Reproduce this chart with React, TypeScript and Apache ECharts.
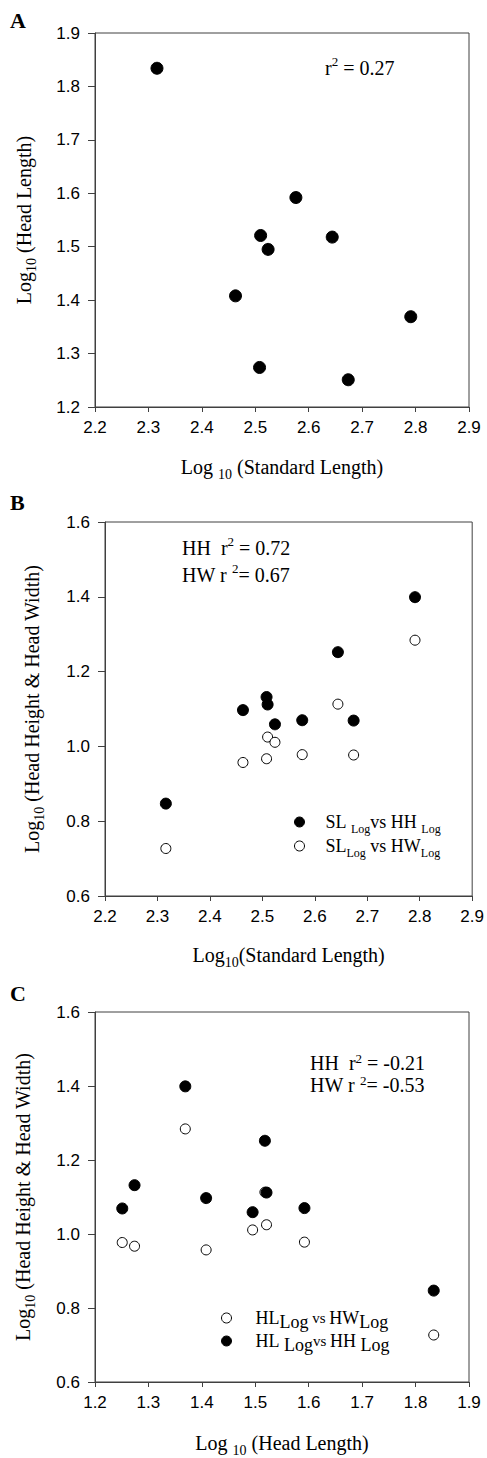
import React, { useEffect, useRef } from "react";
import * as echarts from "echarts";

// ---- data (one entry per specimen) ----
const standardLength = [2.316, 2.463, 2.508, 2.51, 2.524, 2.576, 2.644, 2.674, 2.791];
const headLength = [1.834, 1.408, 1.274, 1.521, 1.495, 1.592, 1.518, 1.251, 1.369];
const headHeight = [0.847, 1.097, 1.132, 1.112, 1.059, 1.07, 1.252, 1.069, 1.399];
const headWidth = [0.727, 0.957, 0.967, 1.025, 1.011, 0.978, 1.113, 0.977, 1.284];

// axis ranges [min, max, interval]
const slAxis = [2.2, 2.9, 0.1];
const hlAxis = [1.2, 1.9, 0.1];
const hhwAxis = [0.6, 1.6, 0.2];

const pairs = (xs: number[], ys: number[]) => xs.map((x, i) => [x, ys[i]]);

const SERIF = "'Liberation Serif', 'Times New Roman', serif";
const SANS = "'Liberation Sans', Arial, sans-serif";
const AXIS_COLOR = "#404040";

const nameRich = {
  m: { fontFamily: SERIF, fontSize: 20, lineHeight: 28, color: "#000" },
  s: { fontFamily: SERIF, fontSize: 14, lineHeight: 14, verticalAlign: "bottom", color: "#000" },
};

const annRich = (lh: number) => ({
  m: { fontFamily: SERIF, fontSize: 20, lineHeight: lh, color: "#000" },
  p: { fontFamily: SERIF, fontSize: 13, lineHeight: 10, verticalAlign: "top", color: "#000" },
});

function valueAxis(gridIndex: number, range: number[], name: string, isY: boolean, nameGap: number) {
  return {
    type: "value",
    gridIndex,
    min: range[0],
    max: range[1],
    interval: range[2],
    name,
    nameLocation: "middle",
    nameGap,
    nameTextStyle: { rich: nameRich },
    axisLine: { show: true, lineStyle: { color: AXIS_COLOR, width: 1 } },
    axisTick: { show: true, inside: false, length: isY ? 7 : 5, lineStyle: { color: AXIS_COLOR, width: 1 } },
    axisLabel: {
      show: true,
      margin: isY ? 15 : 12,
      color: "#000",
      fontFamily: SANS,
      fontSize: 17,
      formatter: (v: number) => v.toFixed(1),
    },
    splitLine: { show: false },
  };
}

const filled = { color: "#000", borderColor: "#000", borderWidth: 1, opacity: 1 };
const open = { color: "#fff", borderColor: "#000", borderWidth: 1, opacity: 1 };

export default function App() {
  const ref = useRef<HTMLDivElement>(null);

  useEffect(() => {
    if (!ref.current) return;
    const chart = echarts.init(ref.current, null, { renderer: "svg" });

    const legendB: Record<string, string> = {
      "SL vs HH": "{f|SL }{s|Log}{m|vs HH }{s|Log}",
      "SL vs HW": "{f|SL}{s|Log}{m| vs HW}{s|Log}",
    };
    const legendC: Record<string, string> = {
      "HL vs HW": "{f|HL}{s|Log}{v| vs }{m|HW}{s|Log}",
      "HL vs HH": "{f|HL }{s|Log}{v|vs }{m|HH }{s|Log}",
    };

    const option: any = {
      animation: false,
      backgroundColor: "#fff",
      grid: [
        { left: 95, top: 33, width: 374, height: 374, show: true, borderColor: AXIS_COLOR, borderWidth: 1, backgroundColor: "transparent" },
        { left: 105, top: 522, width: 374, height: 374, show: true, borderColor: AXIS_COLOR, borderWidth: 1, backgroundColor: "transparent" },
        { left: 95, top: 1012, width: 374, height: 375, show: true, borderColor: AXIS_COLOR, borderWidth: 1, backgroundColor: "transparent" },
      ],
      xAxis: [
        valueAxis(0, slAxis, "{m|Log }{s|10}{m| (Standard Length)}", false, 46),
        valueAxis(1, slAxis, "{m|Log}{s|10}{m|(Standard Length)}", false, 45),
        valueAxis(2, hlAxis, "{m|Log }{s|10}{m| (Head Length)}", false, 47),
      ],
      yAxis: [
        valueAxis(0, hlAxis, "{m|Log}{s|10}{m| (Head Length)}", true, 57),
        valueAxis(1, hhwAxis, "{m|Log}{s|10}{m| (Head Height & Head Width)}", true, 59),
        valueAxis(2, hhwAxis, "{m|Log}{s|10}{m| (Head Height & Head Width)}", true, 58),
      ],
      legend: [
        {
          data: [
            { name: "SL vs HH", icon: "circle", itemStyle: filled },
            { name: "SL vs HW", icon: "circle", itemStyle: open },
          ],
          orient: "vertical",
          left: 294,
          top: 813,
          padding: 0,
          itemWidth: 10,
          itemHeight: 10,
          itemGap: 2,
          selectedMode: false,
          formatter: (n: string) => legendB[n],
          textStyle: {
            color: "#000",
            rich: {
              f: { fontFamily: SERIF, fontSize: 18, lineHeight: 26, color: "#000", padding: [0, 0, 0, 16] },
              m: { fontFamily: SERIF, fontSize: 18, lineHeight: 26, color: "#000" },
              s: { fontFamily: SERIF, fontSize: 12, lineHeight: 11, verticalAlign: "bottom", color: "#000" },
            },
          },
        },
        {
          data: [
            { name: "HL vs HW", icon: "circle", itemStyle: open },
            { name: "HL vs HH", icon: "circle", itemStyle: filled },
          ],
          orient: "vertical",
          left: 221,
          top: 1309,
          padding: 0,
          itemWidth: 10,
          itemHeight: 10,
          itemGap: 1,
          selectedMode: false,
          formatter: (n: string) => legendC[n],
          textStyle: {
            color: "#000",
            rich: {
              f: { fontFamily: SERIF, fontSize: 18, lineHeight: 26, color: "#000", padding: [0, 0, 0, 19] },
              m: { fontFamily: SERIF, fontSize: 18, lineHeight: 26, color: "#000" },
              s: { fontFamily: SERIF, fontSize: 18, lineHeight: 16, verticalAlign: "bottom", color: "#000" },
              v: { fontFamily: SERIF, fontSize: 15, lineHeight: 26, color: "#000" },
            },
          },
        },
      ],
      series: [
        {
          name: "SL vs HL",
          type: "scatter",
          xAxisIndex: 0,
          yAxisIndex: 0,
          symbol: "circle",
          symbolSize: 12,
          itemStyle: filled,
          data: pairs(standardLength, headLength),
        },
        {
          name: "SL vs HH",
          type: "scatter",
          xAxisIndex: 1,
          yAxisIndex: 1,
          symbol: "circle",
          symbolSize: 11,
          itemStyle: filled,
          data: pairs(standardLength, headHeight),
        },
        {
          name: "SL vs HW",
          type: "scatter",
          xAxisIndex: 1,
          yAxisIndex: 1,
          symbol: "circle",
          symbolSize: 10,
          itemStyle: open,
          data: pairs(standardLength, headWidth),
        },
        {
          name: "HL vs HW",
          type: "scatter",
          xAxisIndex: 2,
          yAxisIndex: 2,
          symbol: "circle",
          symbolSize: 10,
          itemStyle: open,
          data: pairs(headLength, headWidth),
        },
        {
          name: "HL vs HH",
          type: "scatter",
          xAxisIndex: 2,
          yAxisIndex: 2,
          symbol: "circle",
          symbolSize: 11,
          itemStyle: filled,
          data: pairs(headLength, headHeight),
        },
      ],
      graphic: [
        { type: "text", x: 10, y: 20, style: { text: "A", fill: "#000", font: `bold 22px ${SERIF}`, verticalAlign: "middle" } },
        { type: "text", x: 10, y: 502, style: { text: "B", fill: "#000", font: `bold 22px ${SERIF}`, verticalAlign: "middle" } },
        { type: "text", x: 10, y: 993, style: { text: "C", fill: "#000", font: `bold 22px ${SERIF}`, verticalAlign: "middle" } },
        { type: "text", x: 325, y: 68, style: { text: "{m|r}{p|2}{m| = 0.27}", rich: annRich(26), verticalAlign: "middle" } },
        {
          type: "text",
          x: 182,
          y: 561.5,
          style: { text: "{m|HH  r}{p|2}{m| = 0.72}\n{m|HW r }{p|2}{m|= 0.67}", rich: annRich(27), verticalAlign: "middle" },
        },
        {
          type: "text",
          x: 310,
          y: 1074,
          style: { text: "{m|HH  r}{p|2}{m| = -0.21}\n{m|HW r }{p|2}{m|= -0.53}", rich: annRich(22), verticalAlign: "middle" },
        },
      ],
    };

    chart.setOption(option);
    return () => chart.dispose();
  }, []);

  return (
    <div
      ref={ref}
      style={{ position: "absolute", left: 0, top: 0, width: 487, height: 1458 }}
    />
  );
}
